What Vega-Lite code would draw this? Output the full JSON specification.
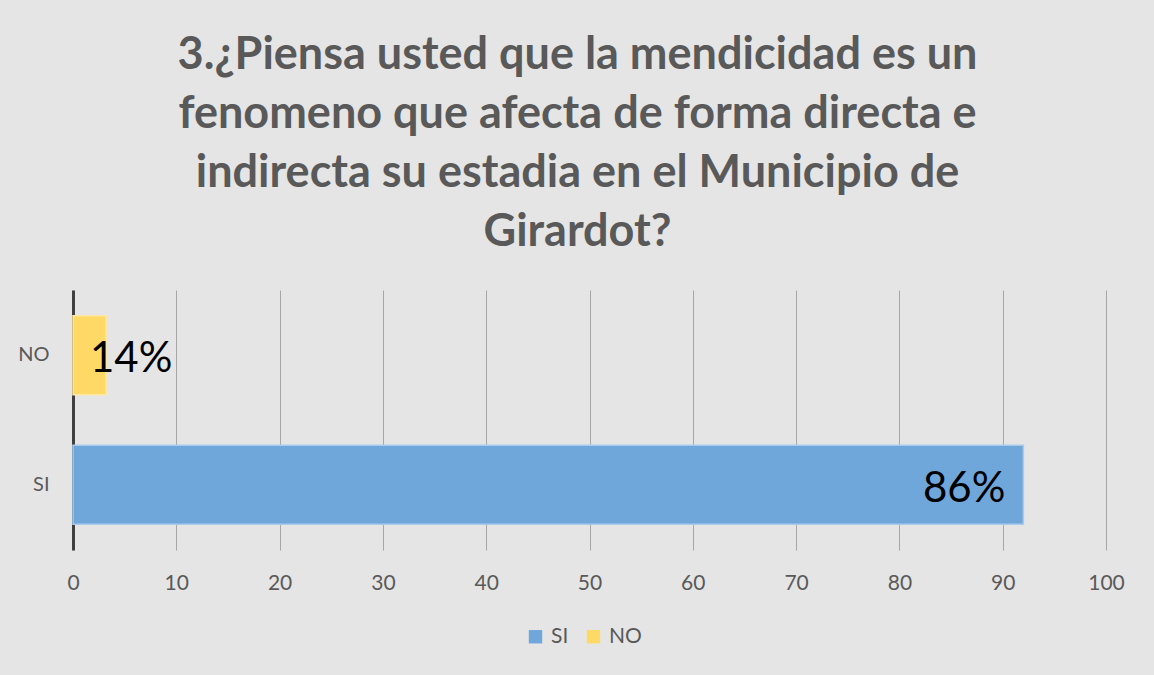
{
  "$schema": "https://vega.github.io/schema/vega-lite/v6.json",
  "width": 1033,
  "height": 260,
  "autosize": "none",
  "padding": {"left": 73, "top": 290, "right": 48, "bottom": 125},
  "background": "#e5e5e5",
  "title": {
    "text": ["3.¿Piensa usted que la mendicidad es un", "fenomeno que afecta de forma directa e", "indirecta su estadia en el Municipio de", "Girardot?"],
    "font": "Lato",
    "fontSize": 45,
    "fontWeight": "bold",
    "color": "#595959",
    "lineHeight": 59,
    "anchor": "middle",
    "frame": "group",
    "dx": -12,
    "offset": 35
  },
  "data": {
    "values": [
      {"respuesta": "SI", "valor": 92, "etiqueta": "86%"},
      {"respuesta": "NO", "valor": 3.2, "etiqueta": "14%"}
    ]
  },
  "encoding": {
    "y": {
      "field": "respuesta",
      "type": "nominal",
      "sort": ["NO", "SI"],
      "scale": {"paddingInner": 0.39, "paddingOuter": 0.2},
      "axis": {
        "title": null,
        "labelFont": "Lato",
        "labelFontSize": 20,
        "labelColor": "#595959",
        "labelPadding": 24,
        "ticks": false,
        "domainColor": "#404040",
        "domainWidth": 3,
        "grid": false
      }
    }
  },
  "layer": [
    {
      "mark": {"type": "bar", "strokeWidth": 1.5},
      "encoding": {
        "x": {
          "field": "valor",
          "type": "quantitative",
          "scale": {"domain": [0, 100], "nice": false},
          "axis": {
            "title": null,
            "values": [0, 10, 20, 30, 40, 50, 60, 70, 80, 90, 100],
            "labelFont": "Lato",
            "labelFontSize": 21,
            "labelColor": "#595959",
            "labelPadding": 22,
            "labelFlush": false,
            "ticks": false,
            "domain": false,
            "grid": true,
            "gridColor": "#a6a6a6",
            "gridWidth": 1
          }
        },
        "color": {
          "field": "respuesta",
          "type": "nominal",
          "scale": {"domain": ["SI", "NO"], "range": ["#6fa7db", "#ffd966"]},
          "legend": {
            "title": null,
            "orient": "none",
            "direction": "horizontal",
            "legendX": 452,
            "legendY": 336,
            "symbolType": "square",
            "symbolSize": 180,
            "symbolStrokeWidth": 0,
            "labelFont": "Lato",
            "labelFontSize": 21,
            "labelColor": "#595959",
            "columnPadding": 14,
            "labelOffset": 5
          }
        },
        "stroke": {
          "field": "respuesta",
          "type": "nominal",
          "scale": {"domain": ["SI", "NO"], "range": ["#a9cbeb", "#ffe8a3"]},
          "legend": null
        }
      }
    },
    {
      "transform": [{"filter": "datum.respuesta == 'SI'"}],
      "mark": {"type": "text", "align": "right", "baseline": "middle", "dx": -18, "dy": 4, "font": "Lato", "fontSize": 42, "color": "#000000"},
      "encoding": {
        "x": {"field": "valor", "type": "quantitative"},
        "text": {"field": "etiqueta"}
      }
    },
    {
      "transform": [{"filter": "datum.respuesta == 'NO'"}],
      "mark": {"type": "text", "align": "left", "baseline": "middle", "dx": 17, "dy": 4, "font": "Lato", "fontSize": 42, "color": "#000000"},
      "encoding": {
        "x": {"datum": 0, "type": "quantitative"},
        "text": {"field": "etiqueta"}
      }
    }
  ],
  "config": {"view": {"stroke": null}}
}
